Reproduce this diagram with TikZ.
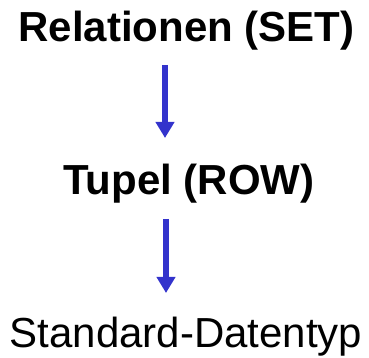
\documentclass[tikz,border=0pt]{standalone}
\usepackage{fontspec}
\setmainfont{Liberation Sans}
\usetikzlibrary{arrows.meta}
\definecolor{arrowblue}{RGB}{51,51,204}
\tikzset{
  level/.style={anchor=base, inner sep=0pt, font=\fontsize{42}{48}\selectfont},
  levelbold/.style={level, font=\fontsize{42}{48}\selectfont\bfseries},
  flow/.style={draw=arrowblue, line width=5.5pt, -{Triangle[length=16pt,width=18pt]}, arrowblue}
}
\begin{document}
\begin{tikzpicture}[x=1pt,y=1pt]
  \useasboundingbox (0,0) rectangle (369,358);
  \node[levelbold] (rel) at (186.5,316) {Relationen (SET)};
  \node[levelbold] (tup) at (189,163) {Tupel (ROW)};
  \node[level] (std) at (186,10) {Standard-Datentyp};
  % arrow ends sit slightly left of the text centres
  \coordinate (r1) at (165,293);
  \coordinate (t1) at (165,220);
  \coordinate (t2) at (166,139);
  \coordinate (s2) at (166,65);
  \draw[flow] (r1) -- (t1);
  \draw[flow] (t2) -- (s2);
\end{tikzpicture}
\end{document}
